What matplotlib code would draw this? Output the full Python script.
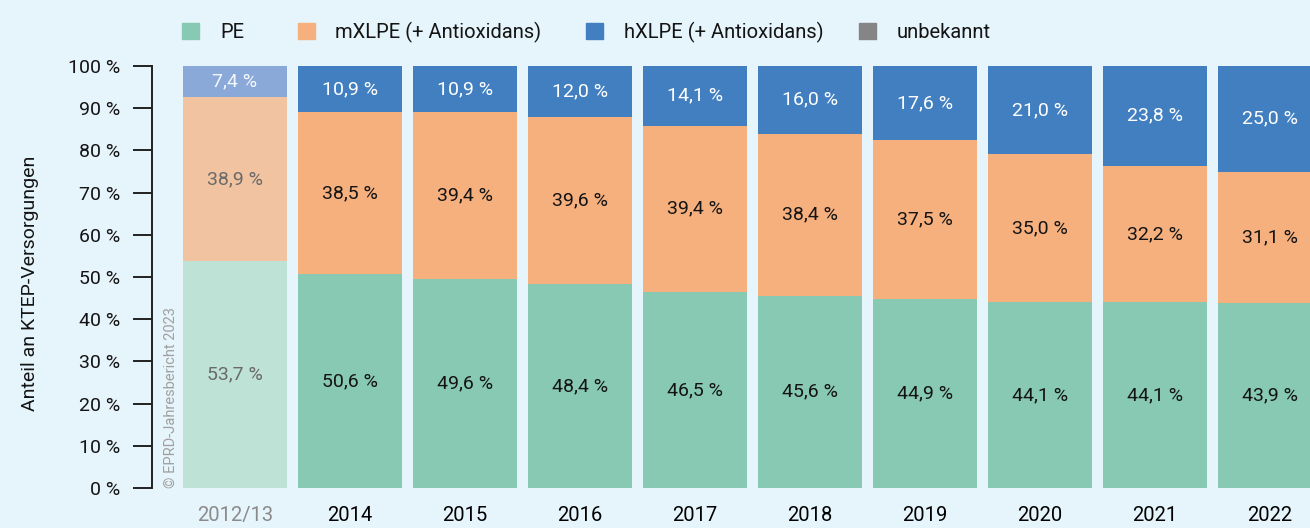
#!/usr/bin/env python3
import numpy as np
from matplotlib import pyplot as plt
from matplotlib.patches import Rectangle

plt.rcParams['font.family'] = ['Roboto', 'DejaVu Sans']

years = ['2012/13', '2014', '2015', '2016', '2017', '2018', '2019', '2020', '2021', '2022']
pe = [53.7, 50.6, 49.6, 48.4, 46.5, 45.6, 44.9, 44.1, 44.1, 43.9]
mxlpe = [38.9, 38.5, 39.4, 39.6, 39.4, 38.4, 37.5, 35.0, 32.2, 31.1]
hxlpe = [7.4, 10.9, 10.9, 12.0, 14.1, 16.0, 17.6, 21.0, 23.8, 25.0]
unbekannt = [0, 0, 0, 0, 0, 0, 0, 0, 0, 0]
series_names = ['PE', 'mXLPE (+ Antioxidans)', 'hXLPE (+ Antioxidans)', 'unbekannt']

bg = '#e6f4fb'
colors = ['#88c9b4', '#f6b07e', '#417fc0', '#858585']
faded = ['#bfe2d6', '#f2c3a0', '#8aa8d8', '#c0c0c0']
txt_dark = '#141414'

W, H = 1310, 528
fig = plt.figure(figsize=(W / 100, H / 100), dpi=100, facecolor=bg)
ax = fig.add_axes([152 / W, (H - 488) / H, 1 - 152 / W, (488 - 66) / H])
ax.set_facecolor(bg)

x = np.arange(len(years))
bottom = np.zeros(len(years))
for i, vals in enumerate([pe, mxlpe, hxlpe, unbekannt]):
    vals = np.array(vals, dtype=float)
    cols = [faded[i] if j == 0 else colors[i] for j in range(len(years))]
    ax.bar(x, vals, bottom=bottom, width=0.9, color=cols, linewidth=0)
    for j, v in enumerate(vals):
        if v <= 0:
            continue
        if i == 2:
            c = '#f4f8fc' if j == 0 else 'white'
        else:
            c = '#6a6a6a' if j == 0 else txt_dark
        ax.text(x[j], bottom[j] + v / 2, f'{v:.1f} %'.replace('.', ','),
                ha='center', va='center', fontsize=14, color=c)
    bottom += vals

ax.set_xlim(-83 / 115, (W - 235) / 115)
ax.set_ylim(0, 100)
ax.set_yticks(range(0, 101, 10))
ax.set_yticklabels([f'{v} %' for v in range(0, 101, 10)], fontsize=14, color=txt_dark)
ax.set_xticks(x)
ax.set_xticklabels(years, fontsize=14.5)
ax.get_xticklabels()[0].set_color('#8a8a8a')
ax.tick_params(axis='x', length=0, pad=13)
ax.tick_params(axis='y', length=14, width=1.4, pad=9, color='#222222')
for s in ['top', 'right', 'bottom']:
    ax.spines[s].set_visible(False)
ax.spines['left'].set_linewidth(1.4)
ax.spines['left'].set_color('#222222')

fig.text(30 / W, 1 - 283 / H, 'Anteil an KTEP-Versorgungen', rotation=90,
         ha='center', va='center', fontsize=14, color=txt_dark)
fig.text(171 / W, (H - 488) / H, '© EPRD-Jahresbericht 2023', rotation=90,
         ha='center', va='bottom', fontsize=10.5, color='#a0a0a0')

# legend drawn by hand along the top
sq_x = [182, 298, 586, 859]
lab_x = [220, 335, 624, 897]
for sx, lx, c, name in zip(sq_x, lab_x, colors, series_names):
    fig.patches.append(Rectangle((sx / W, 1 - 39 / H), 17 / W, 16 / H,
                                 transform=fig.transFigure, color=c))
    fig.text(lx / W, 1 - 32 / H, name, ha='left', va='center',
             fontsize=14.5, color=txt_dark)

fig.savefig('out.png', dpi=100, facecolor=bg)
